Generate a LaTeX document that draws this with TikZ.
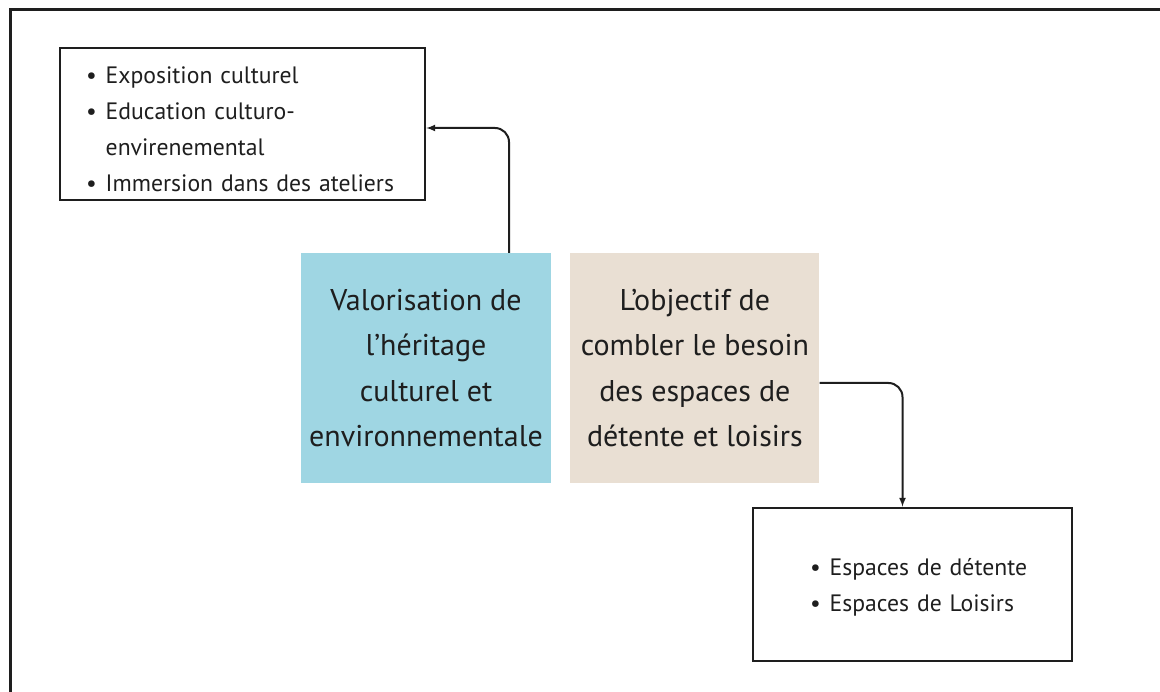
\documentclass[tikz,border=0pt]{standalone}
\usepackage{fontspec}
\setmainfont{PT Sans}
\usepackage{tikz}
\usetikzlibrary{arrows.meta, positioning}
\definecolor{tealbox}{RGB}{159,214,227}
\definecolor{beigebox}{RGB}{233,223,211}
\definecolor{inkgray}{RGB}{30,30,30}
\tikzstyle{goal}=[rectangle,minimum width=250pt,minimum height=230pt,inner sep=0pt,align=center,text=inkgray,font=\fontsize{30}{45.5}\selectfont]
\tikzstyle{listbox}=[draw=inkgray,line width=2.6pt,rectangle,text=inkgray,font=\fontsize{23.7}{36}\selectfont]
\tikzstyle{every node}=[font=\small]

\begin{document}
\begin{tikzpicture}[x=1pt,y=-1pt,>=latex,node distance=19pt]
    \useasboundingbox (0,0) rectangle (1160,692);
    \draw[inkgray,line width=3pt] (10,10) rectangle (1170,702);

    \node[goal, fill=tealbox] (valo) at (426,368) {Valorisation de\\l’héritage\\culturel et\\environnementale};
    \node[goal, fill=beigebox, right=of valo, minimum width=249pt] (objectif) {L’objectif de\\combler le besoin\\des espaces de\\détente et loisirs};

    \node[listbox, minimum width=365pt, minimum height=152pt, inner xsep=26pt, text width=313pt] (culture) at (242.5,124) {%
        \raisebox{-6pt}[\height][\depth]{\begin{tabular}{@{}l@{\hspace{9pt}}l@{}}
        \textbullet & Exposition culturel\\
        \textbullet & Education culturo-\\
                    & envirenemental\\
        \textbullet & Immersion dans des ateliers
        \end{tabular}}};
    \node[listbox, minimum width=319pt, minimum height=153pt, inner xsep=57pt, text width=205pt] (loisirs) at (912.5,584.5) {%
        \raisebox{-2pt}[\height][\depth]{\begin{tabular}{@{}l@{\hspace{9pt}}l@{}}
        \textbullet & Espaces de détente\\
        \textbullet & Espaces de Loisirs
        \end{tabular}}};

    \draw[->, line width=2pt, inkgray, rounded corners=14pt] ([xshift=83pt]valo.north) |- ([yshift=-4pt]culture.east);
    \draw[->, line width=2pt, inkgray, rounded corners=14pt] ([yshift=-15pt]objectif.east) -| ([xshift=-10pt]loisirs.north);
\end{tikzpicture}
\end{document}
